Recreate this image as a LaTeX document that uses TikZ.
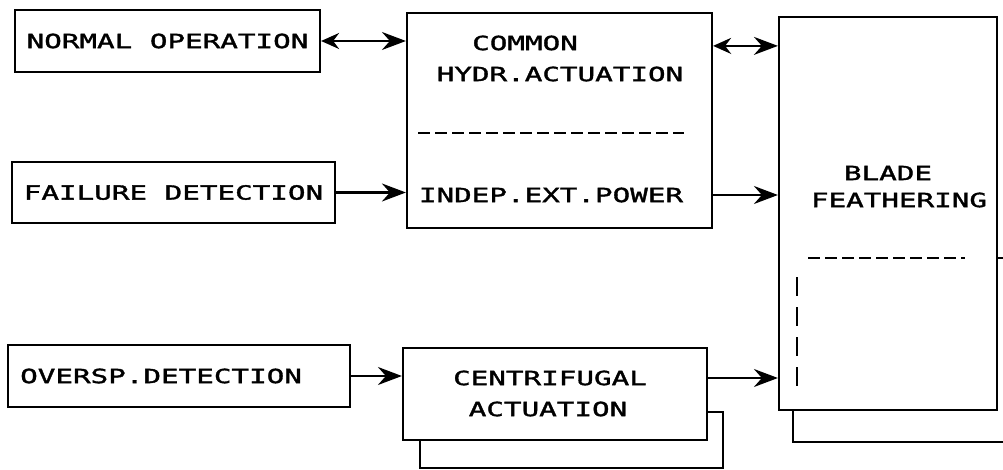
\documentclass[tikz,border=0pt]{standalone}
\usepackage{fontspec}
\newfontfamily\plotfont[FakeStretch=1.5, FakeBold=1.8]{DejaVu Sans Mono}
\usetikzlibrary{arrows.meta,positioning,calc}
\tikzset{
  blk/.style={draw, line width=2.2pt, fill=white, inner sep=0pt},
  lbl/.style={font=\plotfont\fontsize{19.5}{19.5}\selectfont, inner sep=0pt},
  flow/.style={-{Stealth[length=24pt,width=18pt,inset=8pt]}, line width=2.2pt},
  bflow/.style={{Stealth[length=18pt,width=16pt,inset=6pt]}-{Stealth[length=24pt,width=18pt,inset=8pt]}, line width=2.2pt},
  sepln/.style={dash pattern=on 12pt off 5pt, line width=2.6pt},
}

\begin{document}
\begin{tikzpicture}[x=1pt,y=-1pt]
    \useasboundingbox (0,0) rectangle (1003,470);
    % shadows behind the two actuator blocks
    \draw[line width=2.2pt] (420,412) rectangle (723,468);
    \draw[line width=2.2pt] (997,258) -- (1003,258);
    \draw[line width=2.2pt] (793,410) -- (793,442) -- (1003,442);
    % input blocks
    \node[blk, lbl, minimum width=305pt, minimum height=62pt] (normal) at (167.5,41) {NORMAL OPERATION};
    \node[blk, lbl, minimum width=323pt, minimum height=61pt] (failure) at (173.5,192.5) {FAILURE DETECTION};
    \node[blk, minimum width=342pt, minimum height=62pt] (oversp) at (179,376) {};
    \node[lbl, anchor=west] (overspT) at (20,376) {OVERSP.DETECTION};
    % actuation blocks
    \node[blk, minimum width=305pt, minimum height=215pt] (common) at (559.5,120.5) {};
    \node[lbl] (commonA) at (525,43) {COMMON};
    \node[lbl] (commonB) at (560,74) {HYDR.ACTUATION};
    \draw[sepln] (418,133) -- (684,133);
    \node[lbl] (indep) at (551,195) {INDEP.EXT.POWER};
    \node[blk, minimum width=304pt, minimum height=92pt] (centri) at (555,394) {};
    \node[lbl] (centriA) at (550,378) {CENTRIFUGAL};
    \node[lbl] (centriB) at (548,409) {ACTUATION};
    % blade feathering
    \node[blk, minimum width=218pt, minimum height=393pt] (blade) at (888,213.5) {};
    \node[lbl] (bladeA) at (888,173) {BLADE};
    \node[lbl] (bladeB) at (899,200) {FEATHERING};
    \draw[sepln] (808,258) -- (965,258);
    \draw[line width=2.6pt, dash pattern=on 19pt off 11pt] (797,277) -- (797,388);
    % connections
    \coordinate (hydrOut) at ($(common.north east)+(0,34)$);
    \draw[bflow] (normal.east) -- (normal.east -| common.west);
    \draw[flow] (failure.east) -- (failure.east -| common.west);
    \draw[flow] (oversp.east) -- (oversp.east -| centri.west);
    \draw[bflow] (hydrOut) -- (hydrOut -| blade.west);
    \draw[flow] (indep.east -| common.east) -- (indep.east -| blade.west);
    \draw[flow] (centriA.east -| centri.east) -- (centriA.east -| blade.west);
\end{tikzpicture}
\end{document}
